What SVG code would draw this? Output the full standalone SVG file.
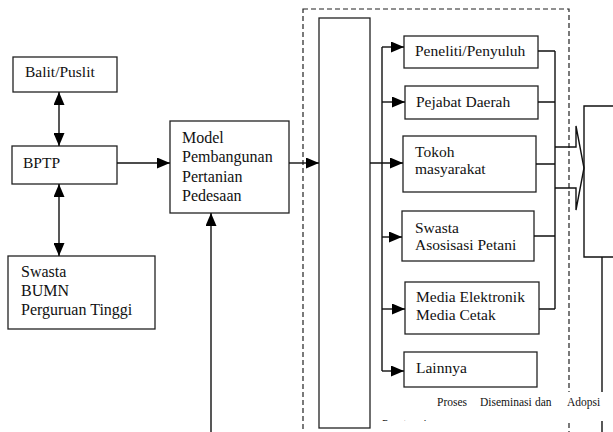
<svg xmlns="http://www.w3.org/2000/svg" width="613" height="432" viewBox="0 0 613 432" font-family="'Liberation Serif', 'Times New Roman', Times, serif">
<style>
.box{fill:#fff;stroke:#222;stroke-width:1.3}
.ln{fill:none;stroke:#111;stroke-width:1.4}
.dash{fill:none;stroke:#222;stroke-width:1.2;stroke-dasharray:5,3}
text{font-family:'Liberation Serif','Times New Roman',Times,serif;font-size:15.5px;fill:#111}
.sm{font-size:11.5px}
.lg{font-size:16px}
</style>
<defs>
<marker id="ah" viewBox="0 0 13 11" refX="13" refY="5.5" markerWidth="13" markerHeight="11" markerUnits="userSpaceOnUse" orient="auto-start-reverse">
<path d="M0,0 L13,5.5 L0,11 Z" fill="#000"/>
</marker>
<clipPath id="capclip"><rect x="380" y="392" width="233" height="29"/></clipPath>
</defs>
<rect width="613" height="432" fill="#fff"/>
<rect class="dash" x="303" y="9" width="266" height="440"/>
<g id="balit"><rect class="box" x="13" y="57" width="104" height="35"/><text x="25" y="77">Balit/Puslit</text></g>
<g id="bptp"><rect class="box" x="12" y="146" width="105" height="38"/><text x="23" y="168">BPTP</text></g>
<g id="swasta-bumn"><rect class="box" x="8" y="256" width="147" height="73"/><text class="lg" x="21" y="277">Swasta</text><text class="lg" x="21" y="296">BUMN</text><text class="lg" x="21" y="315">Perguruan Tinggi</text></g>
<g id="model"><rect class="box" x="170" y="121" width="119" height="92"/><text class="lg" x="182" y="143">Model</text><text class="lg" x="182" y="162">Pembangunan</text><text class="lg" x="182" y="181.5">Pertanian</text><text class="lg" x="182" y="201">Pedesaan</text></g>
<g id="tall"><rect class="box" x="319" y="18" width="51" height="410"/></g>
<g id="peneliti"><rect class="box" x="404" y="36" width="134" height="32"/><text x="415" y="56">Peneliti/Penyuluh</text></g>
<g id="pejabat"><rect class="box" x="405" y="86" width="133" height="33"/><text x="416" y="107">Pejabat Daerah</text></g>
<g id="tokoh"><rect class="box" x="403" y="136" width="133" height="56"/><text x="415" y="157">Tokoh</text><text x="415" y="174">masyarakat</text></g>
<g id="swasta-asosiasi"><rect class="box" x="402" y="211" width="132" height="50"/><text x="415" y="233">Swasta</text><text x="415" y="250">Asosisasi Petani</text></g>
<g id="media"><rect class="box" x="405" y="282" width="134" height="52"/><text x="416" y="302">Media Elektronik</text><text x="416" y="320">Media Cetak</text></g>
<g id="lainnya"><rect class="box" x="404" y="352" width="133" height="35"/><text x="416" y="373">Lainnya</text></g>
<g id="target"><path class="ln" d="M614,106 H584 V257 H614"/></g>
<g id="connectors">
<line class="ln" x1="59" y1="92" x2="59" y2="146" marker-start="url(#ah)" marker-end="url(#ah)"/>
<line class="ln" x1="59" y1="184" x2="59" y2="256" marker-start="url(#ah)" marker-end="url(#ah)"/>
<line class="ln" x1="117" y1="163" x2="170" y2="163" marker-end="url(#ah)"/>
<line class="ln" x1="211" y1="432" x2="211" y2="213" marker-end="url(#ah)"/>
<line class="ln" x1="289" y1="163" x2="319" y2="163" marker-end="url(#ah)"/>
<line class="ln" x1="370" y1="163" x2="403" y2="163" marker-end="url(#ah)"/>
<line class="ln" x1="382" y1="47" x2="382" y2="371"/>
<line class="ln" x1="382" y1="47" x2="404" y2="47" marker-end="url(#ah)"/>
<line class="ln" x1="382" y1="102" x2="405" y2="102" marker-end="url(#ah)"/>
<line class="ln" x1="382" y1="237" x2="402" y2="237" marker-end="url(#ah)"/>
<line class="ln" x1="382" y1="309" x2="405" y2="309" marker-end="url(#ah)"/>
<line class="ln" x1="382" y1="371" x2="404" y2="371" marker-end="url(#ah)"/>
<path class="ln" d="M538,51 H555 M538,102 H555 M536,164 H555 M534,236 H555 M539,309 H555 M555,51 V309"/>
<path class="ln" d="M555,147 H576 V126 L584,168 L576,210 V188 H555"/>
<line class="ln" x1="602" y1="257" x2="602" y2="432"/>
</g>
<g id="caption">
<rect x="380" y="392" width="233" height="29" fill="#fff"/>
<text class="sm" x="437" y="406">Proses</text>
<text class="sm" x="480" y="406">Diseminasi</text>
<text class="sm" x="535" y="406">dan</text>
<text class="sm" x="567" y="406">Adopsi</text>
<g clip-path="url(#capclip)"><text class="sm" x="382" y="428" letter-spacing="2">Pertanian</text></g>
</g>
</svg>
